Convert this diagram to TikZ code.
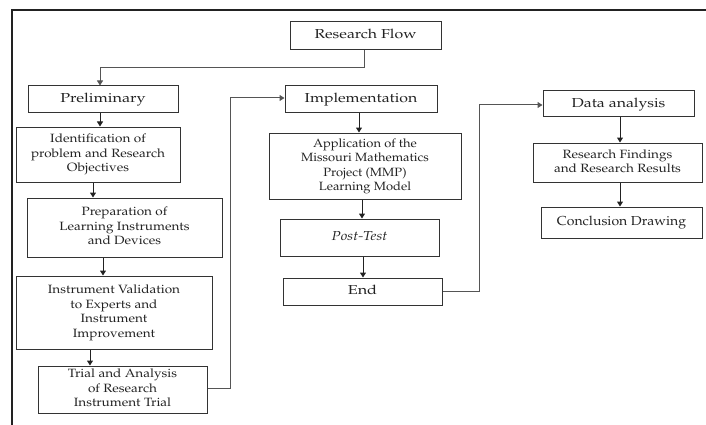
\documentclass[tikz,border=0pt]{standalone}
\usepackage[T1]{fontenc}
\usepackage{mathpazo}
\usepackage{graphicx}
\usetikzlibrary{arrows.meta}
\definecolor{ink}{HTML}{222222}
\definecolor{edge}{HTML}{333333}
\definecolor{wire}{HTML}{555555}
\newcommand{\mytx}[2]{\scalebox{#1}[1]{\begin{tabular}{@{}c@{}}#2\end{tabular}}}
\tikzset{
  box/.style={draw=edge, line width=1pt, align=center, inner sep=0pt,
    font=\fontsize{12}{14.5}\selectfont, text=ink},
  hbox/.style={box, font=\fontsize{13}{15}\selectfont},
  arr/.style={draw=ink, line width=1pt, -{Triangle[length=5pt,width=6pt]}},
  wirearr/.style={draw=wire, line width=1pt, -{Triangle[length=5pt,width=6pt]}},
  frame/.style={draw=ink, line width=1.4pt}
}
\begin{document}
\begin{tikzpicture}[x=1pt,y=-1pt]
\useasboundingbox (0,0) rectangle (706,425);
\draw[frame] (12,425) -- (12,10) -- (706,10);

\node[hbox, minimum width=151pt, minimum height=28pt] (rf) at (365.5,36) {\mytx{1.22}{Research Flow}};
\node[hbox, minimum width=150pt, minimum height=27pt] (pre) at (103,99.5) {\mytx{1.25}{Preliminary}};
\node[box, minimum width=164pt, minimum height=55pt] (idf) at (98,154.5) {\mytx{1.13}{Identification of\\ problem and Research\\ Objectives}};
\node[box, minimum width=195pt, minimum height=59pt] (prep) at (124.5,227.5) {\mytx{1.13}{Preparation of\\ Learning Instruments\\ and Devices}};
\node[box, minimum width=196pt, minimum height=73pt] (val) at (114,312.5) {\mytx{1.13}{Instrument Validation\\ to Experts and\\ Instrument\\ Improvement}};
\node[box, minimum width=169pt, minimum height=47pt] (trial) at (122.5,389.5) {\mytx{1.13}{Trial and Analysis\\ of Research\\ Instrument Trial}};

\node[hbox, minimum width=152pt, minimum height=27pt] (impl) at (361,99.5) {\mytx{1.22}{Implementation}};
\node[box, minimum width=192pt, minimum height=66pt] (app) at (365,166) {\mytx{1.08}{Application of the\\ Missouri Mathematics\\ Project (MMP)\\ Learning Model}};
\node[hbox, minimum width=159pt, minimum height=37pt] (post) at (359.5,237.5) {\raisebox{3pt}{\mytx{1.15}{\itshape Post-Test}}};
\node[hbox, minimum width=159pt, minimum height=27pt] (end) at (362.5,291.5) {\mytx{1.25}{End}};

\node[hbox, minimum width=151pt, minimum height=26pt] (data) at (618.5,104) {\mytx{1.22}{Data analysis}};
\node[box, minimum width=169pt, minimum height=39pt] (find) at (617.5,162.5) {\mytx{1.13}{Research Findings\\ and Research Results}};
\node[hbox, minimum width=161pt, minimum height=31pt] (conc) at (621.5,222.5) {\mytx{1.08}{Conclusion Drawing}};

% main flow connectors
\coordinate (k1) at (364,68);
\coordinate (k2) at (100,68);
\draw[wirearr] (rf.south -| k1) -- (k1) -- (k2) -- (pre.north -| k2);

\draw[arr] (pre.south -| 100,0) -- (idf.north -| 100,0);
\draw[arr] (idf.south -| 93,0) -- (prep.north -| 93,0);
\draw[arr] (prep.south -| 103,0) -- (val.north -| 103,0);
\draw[arr] (val.south -| 90,0) -- (trial.north -| 90,0);

\coordinate (t1) at (230,388);
\coordinate (t2) at (230,98);
\draw[wirearr] (trial.east |- t1) -- (t1) -- (t2) -- (impl.west |- t2);

\draw[arr] (impl.south -| 359,0) -- (app.north -| 359,0);
\draw[arr] (app.south -| 362,0) -- (post.north -| 362,0);
\draw[arr] (post.south -| 363,0) -- (end.north -| 363,0);

\coordinate (e1) at (479,291);
\coordinate (e2) at (479,105);
\draw[wirearr] (end.east |- e1) -- (e1) -- (e2) -- (data.west |- e2);

\draw[arr] (data.south -| 620,0) -- (find.north -| 620,0);
\draw[arr] (find.south -| 620,0) -- (conc.north -| 620,0);
\end{tikzpicture}
\end{document}
